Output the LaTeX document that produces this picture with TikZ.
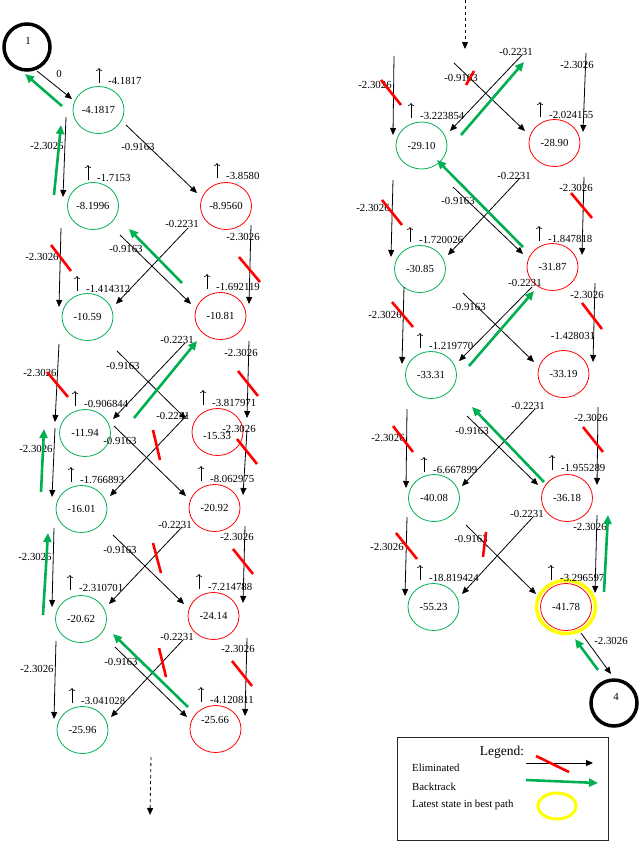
\documentclass[tikz,border=0pt]{standalone}
\usepackage{fontspec}
\setmainfont{Liberation Serif}
\usetikzlibrary{arrows.meta,shapes.geometric}
\definecolor{bgreen}{RGB}{0,176,80}
\definecolor{bred}{RGB}{255,0,0}
\definecolor{byellow}{RGB}{255,255,0}
\tikzset{
  every node/.style={font=\fontsize{10.8}{12}\selectfont, inner sep=0pt},
  gnode/.style={ellipse, draw=bgreen, line width=0.8pt, minimum width=51pt, minimum height=47pt},
  rnode/.style={ellipse, draw=bred, line width=0.8pt, minimum width=51pt, minimum height=47pt},
  endnode/.style={circle, draw=black, line width=3.5pt, minimum size=46pt},
  arr/.style={draw=black, line width=0.8pt, -{Triangle[length=7pt,width=6pt]}},
  bt/.style={draw=bgreen, line width=2.6pt, -{Triangle[length=9pt,width=8pt]}},
  elim/.style={draw=bred, line width=2.6pt},
  uparr/.style={draw=black, line width=0.6pt, -{To[length=3pt,width=6pt]}},
  elab/.style={anchor=center},
}
\newcounter{nn}
\newcommand\lab[3]{\stepcounter{nn}\node[elab] (t\thenn) at (#1,#2) {#3};}
\newcommand\upv[3]{\stepcounter{nn}\draw[uparr] (#1,#2) -- ({#1},{#2-15});
  \node[anchor=base west] (u\thenn) at ({#1+9},{#2+1}) {#3};}
\newcommand\blk[4]{\draw[arr] (#1,#2) -- (#3,#4);}
\newcommand\grn[4]{\draw[bt] (#1,#2) -- (#3,#4);}
\newcommand\elim[4]{\draw[elim] (#1,#2) -- (#3,#4);}
\begin{document}
\begin{tikzpicture}[x=1pt,y=-1pt]
\useasboundingbox (0,0) rectangle (640,854);
% ---------------- start / end
\node[endnode] (s1) at (27,47) {};
\node (s1t) at (28,41) {1};
\node[endnode] (s4) at (614,703) {};
\node (s4t) at (616,697) {4};
% ---------------- left column nodes
\node[gnode] (g1) at (98.5,110) {-4.1817};
\node[gnode] (g2) at (93,206) {-8.1996};
\node[rnode] (r2) at (226,206) {-8.9560};
\node[gnode] (g3) at (87.5,317) {-10.59};
\node[rnode] (r3) at (220.5,316) {-10.81};
\node[gnode] (g4) at (85,433) {-11.94};
\node[rnode] (r4) at (217.5,432) {};
\node (r4t) at (217,436) {-15.33};
\node[gnode] (g5) at (81.5,509) {-16.01};
\node[rnode] (r5) at (214.5,508) {-20.92};
\node[gnode] (g6) at (81,619) {-20.62};
\node[rnode] (r6) at (213.5,616) {-24.14};
\node[gnode] (g7) at (82.5,730) {-25.96};
\node[rnode] (r7) at (215.5,729) {};
\node (r7t) at (215,720) {-25.66};
% ---------------- right column nodes
\node[gnode] (g8) at (421.5,145.5) {-29.10};
\node[rnode] (r8) at (554.5,143) {-28.90};
\node[gnode] (g9) at (420,269) {-30.85};
\node[rnode] (r9) at (552.5,267) {-31.87};
\node[gnode] (g10) at (431,375) {-33.31};
\node[rnode] (r10) at (563.5,374) {-33.19};
\node[gnode] (g11) at (434,498) {-40.08};
\node[rnode] (r11) at (567,498) {-36.18};
\node[gnode] (g12) at (433.5,607) {-55.23};
\node[ellipse, draw=byellow, line width=3.5pt, minimum width=59pt, minimum height=53pt] (yl) at (566,607) {};
\node[rnode] (r12) at (566,607) {-41.78};
% ---------------- up-arrow values
\upv{99}{83}{-4.1817}
\upv{88}{180}{-1.7153}
\upv{217}{178}{-3.8580}
\upv{77}{291}{-1.414312}
\upv{207}{289}{-1.692119}
\upv{75}{406}{-0.906844}
\upv{203}{405}{-3.817971}
\upv{71}{482}{-1.766893}
\upv{201}{481}{-8.062975}
\upv{70}{590}{-2.310701}
\upv{199}{589}{-7.214788}
\upv{72}{703}{-3.041028}
\upv{201}{702}{-4.120811}
\upv{411}{118}{-3.223854}
\upv{540}{117}{-2.024155}
\upv{410}{242}{-1.720026}
\upv{539}{241}{-1.847818}
\upv{420}{348}{-1.219770}
\upv{424}{472}{-6.667899}
\upv{552}{470}{-1.955289}
\upv{420}{580}{-18.819424}
\upv{551}{580}{-3.296597}
\lab{573}{336}{-1.428031}
% ---------------- left page connectors
\blk{37}{71}{72}{99} \lab{59}{74}{0}
\grn{62}{106}{25}{74}
% verticals green column
\blk{66}{117}{63}{197} \lab{47}{146}{-2.3026}
\grn{54}{195}{61}{125}
\blk{61}{228}{59}{307} \lab{42}{257}{-2.3026} \elim{51}{245}{71}{271}
\blk{59}{344}{55}{422} \lab{40}{373}{-2.3026} \elim{47}{372}{68}{397}
\blk{55}{428}{52}{497} \lab{36}{449}{-2.3026}
\grn{41}{492}{44}{429}
\blk{54}{528}{52}{607} \lab{35}{557}{-2.3026}
\grn{43}{615}{48}{533}
\blk{56}{641}{54}{719} \lab{37}{669}{-2.3026}
% verticals red column
\blk{251}{225}{249}{304} \lab{243}{237}{-2.3026} \elim{239}{257}{260}{282}
\blk{249}{341}{247}{418} \lab{241}{353}{-2.3026} \elim{238}{371}{258}{396}
\blk{247}{430}{243}{495} \lab{239}{429}{-2.3026} \elim{237}{439}{257}{464}
\blk{245}{526}{243}{603} \lab{237}{537}{-2.3026} \elim{233}{549}{253}{574}
\blk{247}{638}{245}{716} \lab{238}{649}{-2.3026} \elim{232}{661}{252}{686}
% diagonals
\blk{126}{125}{197}{193} \lab{138}{147}{-0.9163}
\blk{120}{235}{191}{304} \lab{126}{249}{-0.9163}
\blk{188}{228}{116}{304} \lab{182}{224}{-0.2231}
\grn{182}{283}{129}{229}
\blk{117}{351}{186}{419} \lab{123}{366}{-0.9163}
\blk{185}{343}{113}{419} \lab{177}{340}{-0.2231}
\grn{134}{418}{197}{341}
\blk{114}{426}{186}{496} \lab{120}{441}{-0.9163}
\blk{187}{415}{110}{496} \lab{173}{416}{-0.2231} \elim{153}{430}{160}{460}
\blk{113}{535}{184}{604} \lab{120}{550}{-0.9163}
\blk{182}{527}{109}{604} \lab{175}{525}{-0.2231} \elim{153}{543}{161}{573}
\blk{115}{647}{187}{717} \lab{121}{662}{-0.9163}
\blk{183}{640}{111}{717} \lab{177}{637}{-0.2231} \elim{159}{648}{166}{677}
\grn{188}{707}{113}{634}
\draw[arr, dashed] (151,757) coordinate (dl1) -- (150,815) coordinate (dl2);
% ---------------- right page connectors
\draw[arr, dashed] (465,0) coordinate (dr1) -- (465,49) coordinate (dr2);
\blk{394}{56}{393}{135} \lab{375}{85}{-2.3026} \elim{381}{80}{401}{105}
\blk{393}{180}{391}{257} \lab{373}{208}{-2.3026} \elim{382}{200}{402}{225}
\blk{404}{287}{402}{364} \lab{385}{315}{-2.3026} \elim{392}{302}{413}{327}
\blk{407}{409}{406}{488} \lab{388}{438}{-2.3026} \elim{393}{426}{413}{452}
\blk{407}{517}{405}{596} \lab{387}{547}{-2.3026} \elim{396}{533}{417}{559}
\blk{586}{53}{583}{132} \lab{577}{65}{-2.3026}
\blk{584}{177}{582}{255} \lab{576}{188}{-2.3026} \elim{571}{193}{592}{218}
\blk{595}{283}{593}{362} \lab{587}{295}{-2.3026} \elim{582}{303}{602}{329}
\blk{598}{407}{597}{485} \lab{591}{418}{-2.3026} \elim{583}{427}{603}{452}
\blk{597}{515}{595}{593} \lab{590}{527}{-2.3026}
\grn{604}{592}{608}{515}
% diagonals
\blk{454}{63}{525}{131} \lab{461}{78}{-0.9163} \elim{474}{71}{466}{85}
\blk{522}{55}{450}{131} \lab{516}{52}{-0.2231}
\grn{461}{135}{524}{62}
\blk{453}{187}{523}{254} \lab{458}{201}{-0.9163}
\blk{520}{178}{448}{255} \lab{514}{176}{-0.2231}
\grn{523}{247}{437}{160}
\blk{463}{293}{534}{362} \lab{469}{307}{-0.9163}
\blk{532}{287}{459}{361} \lab{525}{283}{-0.2231}
\grn{469}{366}{534}{291}
\blk{467}{416}{538}{485} \lab{472}{431}{-0.9163}
\blk{535}{409}{462}{486} \lab{528}{406}{-0.2231}
\grn{544}{482}{472}{407}
\blk{466}{525}{536}{594} \lab{471}{539}{-0.9163} \elim{486}{532}{483}{557}
\blk{533}{517}{462}{594} \lab{527}{514}{-0.2231}
\blk{581}{633}{611}{674} \lab{611}{641}{-2.3026}
\grn{598}{670}{575}{639}
% ---------------- legend
\node[draw=black!85, line width=1pt, minimum width=211pt, minimum height=103pt] (leg) at (502.5,788.5) {};
\node[font=\fontsize{13.5}{15}\selectfont] (legt) at (502,752) {Legend:};
\node[anchor=west] (le1) at (412,768) {Eliminated};
\node[anchor=west] (le2) at (412,787) {Backtrack};
\node[anchor=west] (le3) at (412,805) {Latest state in best path};
\draw[arr] (526,763) coordinate (la1) -- (593,763) coordinate (la2);
\draw[elim] (536,756) coordinate (lr1) -- (569,772) coordinate (lr2);
\draw[bt] (526,780) coordinate (lg1) -- (598,783) coordinate (lg2);
\node[ellipse, draw=byellow, line width=3pt, minimum width=38pt, minimum height=26pt] (ly) at (557,806) {};
\end{tikzpicture}
\end{document}
